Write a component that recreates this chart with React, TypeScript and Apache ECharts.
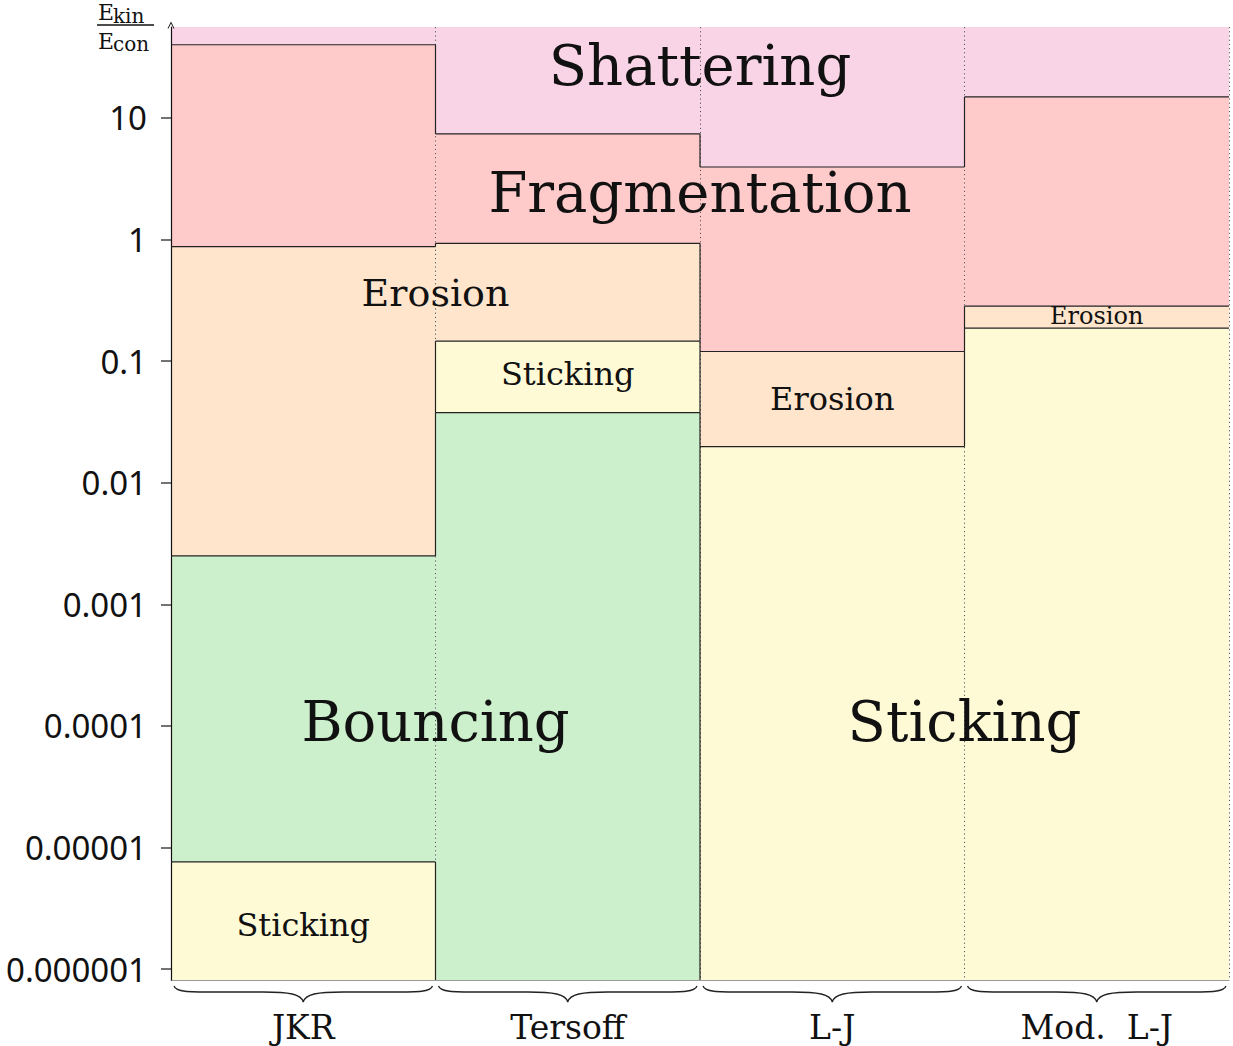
import React, { useEffect, useRef } from 'react';
import * as echarts from 'echarts';

// ---------- data ----------
const MODELS = ['JKR', 'Tersoff', 'L-J', 'Mod. L-J'];
const Y_MIN = 8.12e-7;
const Y_MAX = 56;
const Y_TICKS = [1e-6, 1e-5, 1e-4, 1e-3, 1e-2, 1e-1, 1, 10];
const Y_TICK_LABELS = ['0.000001', '0.00001', '0.0001', '0.001', '0.01', '0.1', '1', '10'];

const REGIONS = ['Sticking', 'Bouncing', 'Erosion', 'Fragmentation', 'Shattering'];

// regions from bottom to top, and the limits between consecutive regions (E_kin / E_con)
const JKR_REGIONS = ['Sticking', 'Bouncing', 'Erosion', 'Fragmentation', 'Shattering'];
const JKR_LIMITS = [7.6e-6, 2.5e-3, 0.875, 40];
const TERSOFF_REGIONS = ['Bouncing', 'Sticking', 'Erosion', 'Fragmentation', 'Shattering'];
const TERSOFF_LIMITS = [0.0377, 0.146, 0.93, 7.4];
const LJ_REGIONS = ['Sticking', 'Erosion', 'Fragmentation', 'Shattering'];
const LJ_LIMITS = [0.0198, 0.12, 3.95];
const MODLJ_REGIONS = ['Sticking', 'Erosion', 'Fragmentation', 'Shattering'];
const MODLJ_LIMITS = [0.187, 0.283, 14.9];

// region annotations: text, x (in model units), y (E_kin / E_con)
const LABEL_TEXTS = ['Shattering', 'Fragmentation', 'Erosion', 'Sticking', 'Erosion', 'Erosion', 'Bouncing', 'Sticking', 'Sticking'];
const LABEL_X = [2.0, 2.0, 1.0, 1.5, 2.5, 3.5, 1.0, 3.0, 0.5];
const LABEL_Y = [26.8, 2.46, 0.36, 0.078, 0.0487, 0.234, 1.08e-4, 1.08e-4, 2.3e-6];

// ---------- styles ----------
const REGION_COLORS = ['#fffad6', '#ccf0cc', '#ffe5cc', '#ffcaca', '#f9d3e6'];
const LABEL_SIZES = [56, 56, 38, 32, 32, 24, 56, 56, 32];
const SERIF = '"DejaVu Serif", serif';

const COLUMNS = [
  { regions: JKR_REGIONS, limits: JKR_LIMITS },
  { regions: TERSOFF_REGIONS, limits: TERSOFF_LIMITS },
  { regions: LJ_REGIONS, limits: LJ_LIMITS },
  { regions: MODLJ_REGIONS, limits: MODLJ_LIMITS },
];

const L = (v: number) => Math.log10(v);

function buildData() {
  const bands: number[][] = [];
  const hLines: number[][] = [];
  const vSegs: number[][] = [];
  COLUMNS.forEach((col, c) => {
    const bounds = [Y_MIN, ...col.limits, Y_MAX];
    col.regions.forEach((r, k) => {
      bands.push([c, L(bounds[k]), L(bounds[k + 1]), REGIONS.indexOf(r)]);
    });
    col.limits.forEach((lim) => hLines.push([c, L(lim)]));
  });
  const regionAt = (c: number, lv: number) => {
    const col = COLUMNS[c];
    let k = 0;
    while (k < col.limits.length && lv > L(col.limits[k])) k++;
    return col.regions[k];
  };
  for (let c = 0; c < COLUMNS.length - 1; c++) {
    const pts = [L(Y_MIN), ...COLUMNS[c].limits.map(L), ...COLUMNS[c + 1].limits.map(L), L(Y_MAX)].sort((a, b) => a - b);
    for (let i = 0; i < pts.length - 1; i++) {
      const a = pts[i], b = pts[i + 1];
      if (b - a < 1e-9) continue;
      const mid = (a + b) / 2;
      if (regionAt(c, mid) !== regionAt(c + 1, mid)) vSegs.push([c + 1, a, b]);
    }
  }
  const labels = LABEL_TEXTS.map((_, i) => [LABEL_X[i], L(LABEL_Y[i]), i]);
  const braces = MODELS.map((_, i) => [i, L(Y_MIN)]);
  return { bands, hLines, vSegs, labels, braces };
}

export default function App() {
  const ref = useRef<HTMLDivElement>(null);
  useEffect(() => {
    document.body.style.margin = '0';
    if (!ref.current) return;
    const chart = echarts.init(ref.current, null, { renderer: 'svg' });
    const { bands, hLines, vSegs, labels, braces } = buildData();

    const option: any = {
      animation: false,
      backgroundColor: '#ffffff',
      grid: { left: 171, right: 4, top: 27, bottom: 66 },
      xAxis: [
        {
          type: 'category',
          data: MODELS,
          z: 3,
          axisLine: { show: true, onZero: false, lineStyle: { color: '#9a9a9a', width: 1 } },
          axisTick: { show: false },
          splitLine: { show: true, lineStyle: { type: [1.2, 3], color: '#555', width: 1 } },
          axisLabel: {
            fontFamily: SERIF,
            fontSize: 33,
            color: '#111',
            margin: 31,
            formatter: (v: string) => v.replace('. ', '.  '),
          },
        },
        { type: 'value', min: 0, max: 4, show: false },
      ],
      yAxis: {
        type: 'value',
        min: L(Y_MIN),
        max: L(Y_MAX),
        z: 4,
        axisLine: {
          show: true,
          lineStyle: { color: '#111', width: 1.2 },
          symbol: ['none', 'path://M0 10 L5 0 L10 10 L8.6 10 L5 3 L1.4 10 Z'],
          symbolSize: [9, 7],
          symbolOffset: [0, 2],
        },
        axisTick: { show: true, length: 10, lineStyle: { color: '#444', width: 1.5 }, customValues: Y_TICKS.map(L) },
        axisLabel: {
          customValues: Y_TICKS.map(L),
          fontFamily: '"Noto Sans", sans-serif',
          fontSize: 33,
          color: '#111',
          margin: 24,
          formatter: (v: number) => {
            const i = Y_TICKS.findIndex((t) => Math.abs(L(t) - v) < 1e-6);
            return i >= 0 ? Y_TICK_LABELS[i] : '';
          },
        },
        splitLine: { show: false },
      },
      series: [
        {
          type: 'custom',
          xAxisIndex: 1,
          z: 1,
          encode: { x: 0, y: [1, 2] },
          data: bands,
          renderItem: (_p: any, api: any) => {
            const c = api.value(0), lo = api.value(1), hi = api.value(2), r = api.value(3);
            const p0 = api.coord([c, lo]);
            const p1 = api.coord([c + 1, hi]);
            return {
              type: 'rect',
              shape: { x: p0[0], y: p1[1], width: p1[0] - p0[0], height: p0[1] - p1[1] },
              style: { fill: REGION_COLORS[r] },
            };
          },
        },
        {
          type: 'custom',
          xAxisIndex: 1,
          z: 5,
          encode: { x: 0, y: 1 },
          data: hLines,
          renderItem: (_p: any, api: any) => {
            const c = api.value(0), v = api.value(1);
            const p0 = api.coord([c, v]);
            const p1 = api.coord([c + 1, v]);
            return {
              type: 'line',
              shape: { x1: p0[0], y1: p0[1], x2: p1[0], y2: p1[1] },
              style: { stroke: '#222', lineWidth: 1.2 },
            };
          },
        },
        {
          type: 'custom',
          xAxisIndex: 1,
          z: 5,
          encode: { x: 0, y: [1, 2] },
          data: vSegs,
          renderItem: (_p: any, api: any) => {
            const x = api.value(0), a = api.value(1), b = api.value(2);
            const p0 = api.coord([x, a]);
            const p1 = api.coord([x, b]);
            return {
              type: 'line',
              shape: { x1: p0[0], y1: p0[1], x2: p1[0], y2: p1[1] },
              style: { stroke: '#222', lineWidth: 1.2 },
            };
          },
        },
        {
          type: 'custom',
          xAxisIndex: 1,
          z: 6,
          encode: { x: 0, y: 1 },
          data: labels,
          renderItem: (_p: any, api: any) => {
            const x = api.value(0), y = api.value(1), i = api.value(2);
            const p = api.coord([x, y]);
            return {
              type: 'text',
              x: p[0],
              y: p[1],
              style: {
                text: LABEL_TEXTS[i],
                fontFamily: SERIF,
                fontSize: LABEL_SIZES[i],
                fill: '#111',
                align: 'center',
                verticalAlign: 'middle',
              },
            };
          },
        },
        {
          type: 'custom',
          xAxisIndex: 1,
          z: 6,
          clip: false,
          encode: { x: 0, y: 1 },
          data: braces,
          renderItem: (_p: any, api: any) => {
            const c = api.value(0), v = api.value(1);
            const p0 = api.coord([c, v]);
            const p1 = api.coord([c + 1, v]);
            const xL = p0[0] + 3, xR = p1[0] - 3, xc = (xL + xR) / 2;
            const y0 = p0[1] + 6, y1 = p0[1] + 12, y2 = p0[1] + 22;
            const d =
              `M${xL} ${y0} C${xL + 2} ${y1} ${xL + 14} ${y1} ${xL + 40} ${y1} ` +
              `L${xc - 40} ${y1} C${xc - 14} ${y1} ${xc - 2} ${y1 + 2} ${xc} ${y2} ` +
              `C${xc + 2} ${y1 + 2} ${xc + 14} ${y1} ${xc + 40} ${y1} ` +
              `L${xR - 40} ${y1} C${xR - 14} ${y1} ${xR - 2} ${y1} ${xR} ${y0}`;
            return {
              type: 'path',
              shape: { pathData: d },
              style: { stroke: '#222', lineWidth: 1.3, fill: null },
            };
          },
        },
      ],
      graphic: [
        { type: 'text', x: 98, y: 1, style: { text: 'E', fontFamily: SERIF, fontSize: 22, fill: '#111' } },
        { type: 'text', x: 113, y: 6, style: { text: 'kin', fontFamily: SERIF, fontSize: 20, fill: '#111' } },
        { type: 'line', shape: { x1: 97, y1: 25, x2: 154, y2: 25 }, style: { stroke: '#111', lineWidth: 1.3 } },
        { type: 'text', x: 98, y: 30, style: { text: 'E', fontFamily: SERIF, fontSize: 22, fill: '#111' } },
        { type: 'text', x: 113, y: 34, style: { text: 'con', fontFamily: SERIF, fontSize: 20, fill: '#111' } },
      ],
    };
    chart.setOption(option);
    return () => chart.dispose();
  }, []);
  return <div ref={ref} style={{ position: 'fixed', left: 0, top: 0, width: 1233, height: 1046 }} />;
}
